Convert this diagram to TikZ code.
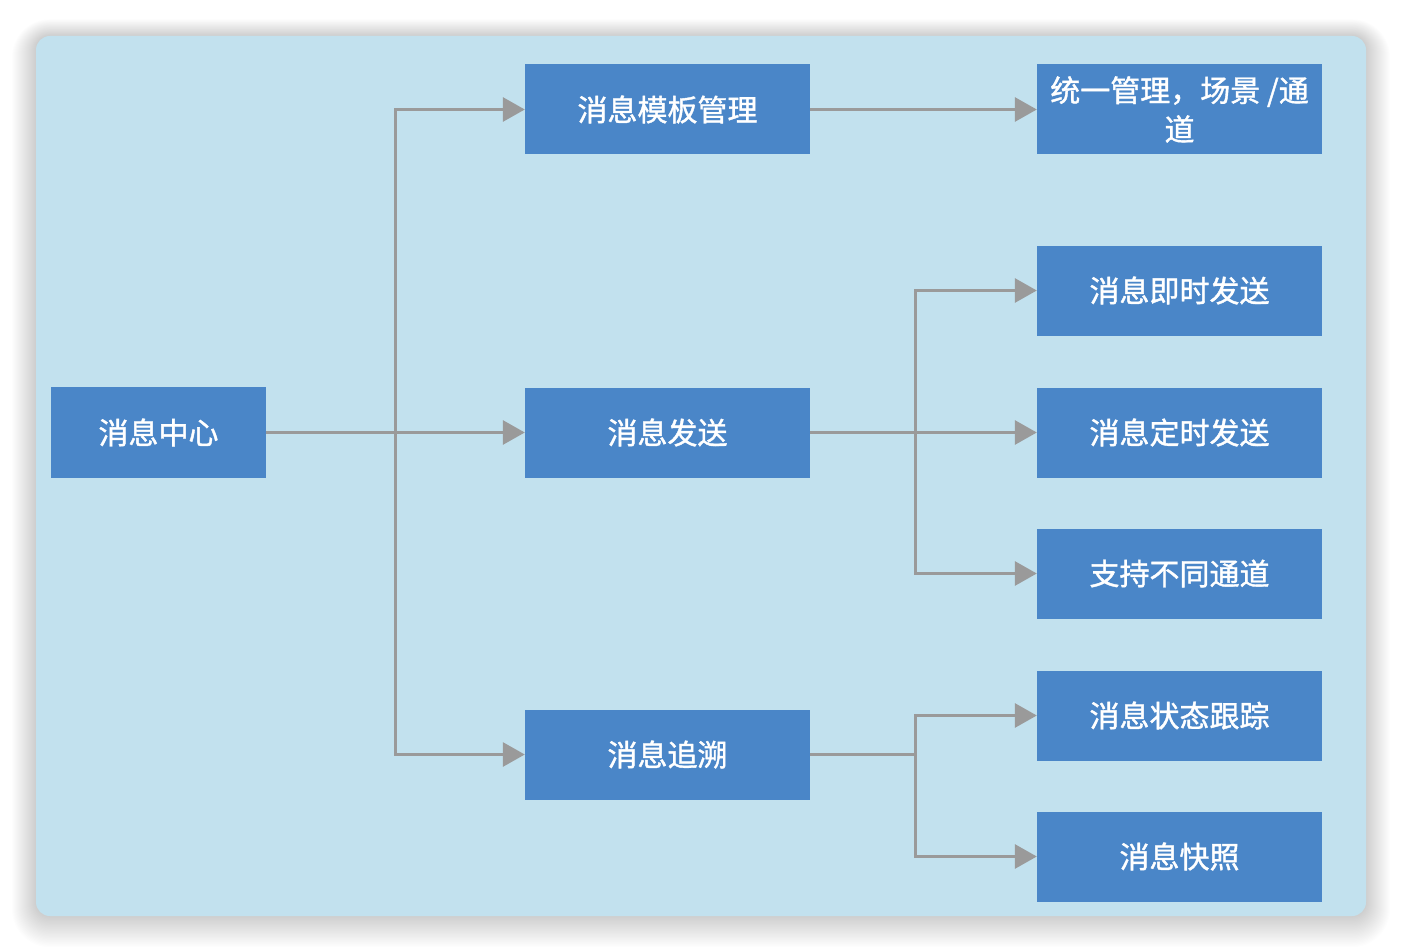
\documentclass[tikz,border=0pt]{standalone}
\usepackage{fontspec}
\setmainfont{Noto Sans CJK SC}
\newfontfamily\boxfont[FakeBold=1.3]{Noto Sans CJK SC}
\usetikzlibrary{arrows.meta}
\definecolor{bgblue}{HTML}{C2E1EE}
\definecolor{boxblue}{HTML}{4A86C8}
\definecolor{linegray}{HTML}{9A9A9A}
\tikzset{
  box/.style={fill=boxblue, draw=none, text=white, minimum width=285pt, minimum height=90pt,
    inner sep=0pt, font=\boxfont\fontsize{30}{39}\selectfont, align=center, anchor=center},
  conn/.style={draw=linegray, line width=3pt, -{Triangle[length=22pt,width=24pt]}},
  plain/.style={draw=linegray, line width=3pt},
}
\begin{document}
\begin{tikzpicture}[x=1pt,y=-1pt]
\useasboundingbox (0,0) rectangle (1402,952);
\fill[white] (0,0) rectangle (1402,952);
% soft shadow
\foreach \i in {1,...,24}{
  \fill[black, opacity=0.006, rounded corners=14pt+\i*1pt] (36-\i,36-\i*0.7) rectangle (1366+\i,916+\i*1.3);
}
\fill[bgblue, rounded corners=14pt] (36,36) rectangle (1366,916);
% nodes
\node[box, minimum width=215pt, minimum height=91pt] (center) at (158.5,432.5) {消息中心};
\node[box] (tmpl)  at (667.5,109.5) {消息模板管理};
\node[box] (send)  at (667.5,432.5) {消息发送};
\node[box] (trace) at (667.5,754.5) {消息追溯};
\node[box] (unify) at (1179.5,109.5) {统一管理，场景 /通\\道};
\node[box] (inst)  at (1179.5,290.5) {消息即时发送};
\node[box] (timed) at (1179.5,432.5) {消息定时发送};
\node[box] (chan)  at (1179.5,573.5) {支持不同通道};
\node[box] (track) at (1179.5,715.5) {消息状态跟踪};
\node[box] (snap)  at (1179.5,856.5) {消息快照};
% junctions
\coordinate (j1) at (395,432.5);
\coordinate (j2) at (915,432.5);
\coordinate (j3) at (915,754.5);
% connectors
\draw[conn] (center.east) -- (send.west);
\draw[conn] (j1) |- (tmpl.west);
\draw[conn] (j1) |- (trace.west);
\draw[conn] (tmpl.east) -- (unify.west);
\draw[conn] (send.east) -- (timed.west);
\draw[conn] (j2) |- (inst.west);
\draw[conn] (j2) |- (chan.west);
\draw[plain] (trace.east) -- (j3);
\draw[conn] (j3) |- (track.west);
\draw[conn] (j3) |- (snap.west);
\end{tikzpicture}
\end{document}
